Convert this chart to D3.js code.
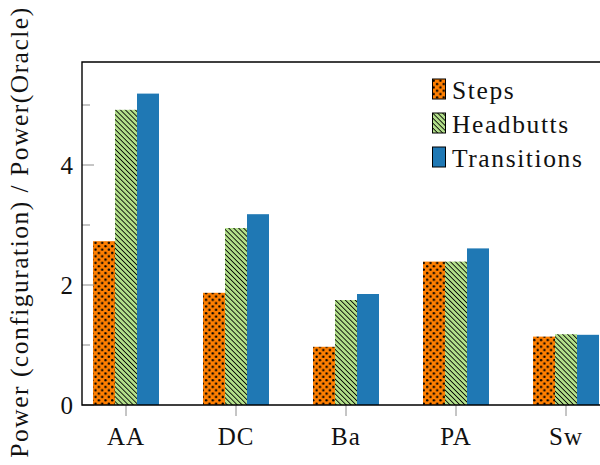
<!DOCTYPE html>
<html><head><meta charset="utf-8">
<script src="https://cdn.jsdelivr.net/npm/d3@7"></script>
<style>
body{margin:0;background:#fff;overflow:hidden}
</style>
</head><body>
<svg id="chart" width="600" height="465"></svg>
<script>
// Power ratio per benchmark, for each configuration
const categories = ["AA", "DC", "Ba", "PA", "Sw"];
const seriesNames = ["Steps", "Headbutts", "Transitions"];
const steps = [2.73, 1.87, 0.97, 2.39, 1.14];
const headbutts = [4.92, 2.95, 1.75, 2.39, 1.18];
const transitions = [5.19, 3.18, 1.85, 2.61, 1.17];
const yTicks = [0, 2, 4];
const yMinorTicks = [1, 3, 5];
const yLabel = "Power (configuration) / Power(Oracle)";

const seriesValues = [steps, headbutts, transitions];
const colors = ["#ff7f00", "#b2df8a", "#1f78b4"];
const fills = ["url(#dots)", "url(#nwlines)", "#1f78b4"];

// pick the first installed serif face
function pickFont(list) {
  const ctx = document.createElement("canvas").getContext("2d");
  const probe = "Power (configuration) AaBbWwIil 0123";
  const w = f => { ctx.font = `40px ${f}`; return ctx.measureText(probe).width; };
  const base = ["monospace", "sans-serif"].map(w);
  for (const f of list) {
    const ws = ["monospace", "sans-serif"].map(b => w(`'${f}', ${b}`));
    if (ws[0] !== base[0] || ws[1] !== base[1]) return `'${f}', serif`;
  }
  return "serif";
}
const FONT = pickFont(["Liberation Serif", "Times New Roman", "Tinos", "DejaVu Serif",
  "Noto Serif", "FreeSerif", "Nimbus Roman", "Nimbus Roman No9 L", "Times"]);

const svg = d3.select("#chart").attr("font-family", FONT);
const plotLeft = 82, plotRight = 610, plotTop = 62, plotBottom = 405;

// fill patterns
const defs = svg.append("defs");
const dots = defs.append("pattern").attr("id", "dots")
  .attr("patternUnits", "userSpaceOnUse").attr("width", 6.7).attr("height", 6.7);
dots.append("rect").attr("width", 6.7).attr("height", 6.7).attr("fill", colors[0]);
dots.append("circle").attr("cx", 1.7).attr("cy", 1.7).attr("r", 1.2).attr("fill", "#000");
dots.append("circle").attr("cx", 5.05).attr("cy", 5.05).attr("r", 1.2).attr("fill", "#000");

const lines = defs.append("pattern").attr("id", "nwlines")
  .attr("patternUnits", "userSpaceOnUse").attr("width", 3.5).attr("height", 3.5)
  .attr("patternTransform", "rotate(-45)");
lines.append("rect").attr("width", 3.5).attr("height", 3.5).attr("fill", colors[1]);
lines.append("rect").attr("x", 0).attr("width", 0.85).attr("y", 0).attr("height", 3.5)
  .attr("fill", "#000");

const x = d3.scalePoint().domain(categories).range([plotLeft, plotRight]).padding(0.4);
const xInner = d3.scaleBand().domain(seriesNames).range([-33, 33]);
const y = d3.scaleLinear().domain([0, (plotBottom - plotTop) / 60]).range([plotBottom, plotTop]);

// bars
const rows = [];
seriesNames.forEach((s, si) => categories.forEach((c, ci) =>
  rows.push({ s, si, c, v: seriesValues[si][ci] })));
svg.append("g").selectAll("rect").data(rows).join("rect")
  .attr("x", d => x(d.c) + xInner(d.s))
  .attr("width", xInner.bandwidth())
  .attr("y", d => y(d.v))
  .attr("height", d => y(0) - y(d.v))
  .attr("fill", d => fills[d.si]);

// y ticks (inward)
const tickG = svg.append("g").attr("stroke", "#8c8c8c").attr("stroke-width", 1);
tickG.selectAll(".maj").data(yTicks).join("line")
  .attr("x1", plotLeft).attr("x2", plotLeft + 12)
  .attr("y1", d => y(d)).attr("y2", d => y(d));
tickG.selectAll(".min").data(yMinorTicks).join("line")
  .attr("x1", plotLeft).attr("x2", plotLeft + 8)
  .attr("y1", d => y(d)).attr("y2", d => y(d));
// x ticks
tickG.selectAll(".xt").data(categories).join("line")
  .attr("x1", d => x(d)).attr("x2", d => x(d))
  .attr("y1", plotBottom).attr("y2", plotBottom + 11);

// frame
svg.append("path")
  .attr("d", `M${plotRight},${plotTop}H${plotLeft}V${plotBottom}H${plotRight}`)
  .attr("fill", "none").attr("stroke", "#000").attr("stroke-width", 1.4);

// tick labels
svg.append("g").selectAll("text").data(yTicks).join("text")
  .attr("x", 73).attr("y", d => y(d) + 9)
  .attr("text-anchor", "end").attr("font-size", 25).attr("fill", "#111")
  .text(d => d);
svg.append("g").selectAll("text").data(categories).join("text")
  .attr("x", d => x(d)).attr("y", 445)
  .attr("text-anchor", "middle").attr("font-size", 25).attr("fill", "#111")
  .attr("letter-spacing", 1)
  .text(d => d);

// axis title
svg.append("text")
  .attr("transform", "translate(28,232) rotate(-90)")
  .attr("text-anchor", "middle").attr("font-size", 25.5).attr("fill", "#111")
  .attr("letter-spacing", 1.5)
  .text(yLabel);

// legend
const lg = svg.append("g").attr("transform", "translate(432,79)");
const item = lg.selectAll("g").data(seriesNames).join("g")
  .attr("transform", (d, i) => `translate(0,${i * 34})`);
item.append("rect").attr("x", 0.5).attr("y", 0).attr("width", 13).attr("height", 20)
  .attr("fill", (d, i) => fills[i]).attr("stroke", "#000").attr("stroke-width", 1);
item.append("text").attr("x", 20).attr("y", 20).attr("font-size", 25.5).attr("fill", "#111")
  .attr("letter-spacing", 1.6)
  .text(d => d);
</script>
</body></html>
